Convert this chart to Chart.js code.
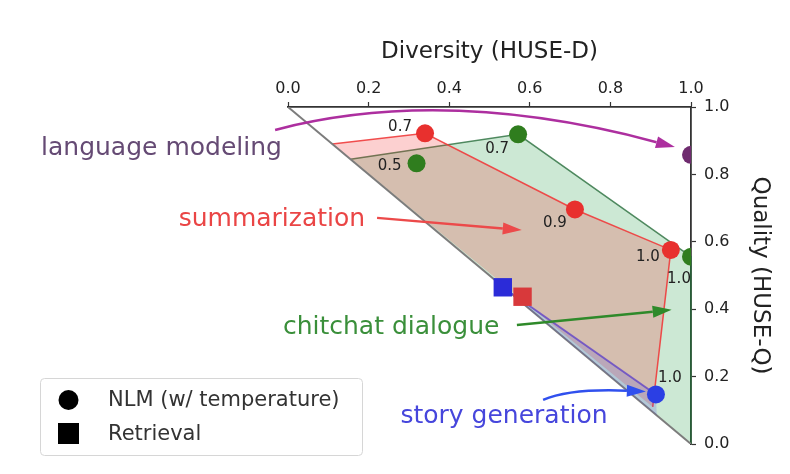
<!DOCTYPE html>
<html>
<head>
<meta charset="utf-8">
<script src="https://cdn.jsdelivr.net/npm/chart.js@4.4.1/dist/chart.umd.min.js"></script>
<style>
  html, body { margin: 0; padding: 0; background: #fff; }
  #wrap { width: 790px; height: 474px; position: relative; }
</style>
</head>
<body>
<div id="wrap"><canvas id="huse"></canvas></div>
<script>
// axis ticks
var xTicks = [0, 0.2, 0.4, 0.6, 0.8, 1.0];
var yTicks = [0, 0.2, 0.4, 0.6, 0.8, 1.0];

// NLM points (with temperature) per task
var lmNLM = [{x: 1.0, y: 0.858}];
var sumNLM = [{x: 0.340, y: 0.922}, {x: 0.712, y: 0.696}, {x: 0.950, y: 0.576}];
var sumTemps = ['0.7', '0.9', '1.0'];
var chatNLM = [{x: 0.319, y: 0.833}, {x: 0.571, y: 0.919}, {x: 1.0, y: 0.556}];
var chatTemps = ['0.5', '0.7', '1.0'];
var storyNLM = [{x: 0.913, y: 0.147}];
var storyTemps = ['1.0'];

// retrieval points
var sumRetrieval = [{x: 0.582, y: 0.437}];
var storyRetrieval = [{x: 0.533, y: 0.465}];

// shaded regions
var sumRegion = [{x: 0.11, y: 0.89}, {x: 0.340, y: 0.922}, {x: 0.712, y: 0.696}, {x: 0.950, y: 0.576}, {x: 0.905, y: 0.11}];
var chatRegion = [{x: 0.155, y: 0.845}, {x: 0.571, y: 0.919}, {x: 1.0, y: 0.556}, {x: 1.0, y: 0.0}];
var storyRegion = [{x: 0.533, y: 0.465}, {x: 0.913, y: 0.147}, {x: 0.915, y: 0.085}];
var diagonal = [{x: 0, y: 1}, {x: 1, y: 0}];

// task labels and arrows (data units)
var notes = [
  {text: 'language modeling', color: '#654a74', arrow: '#ad2f9f', at: [-0.314, 0.878], from: [-0.032, 0.932], via: [0.390, 1.064], to: [0.960, 0.881]},
  {text: 'summarization', color: '#ea4545', arrow: '#ec4a4a', at: [-0.040, 0.665], from: [0.221, 0.671], via: null, to: [0.580, 0.635]},
  {text: 'chitchat dialogue', color: '#3a8f3a', arrow: '#2f8a2a', at: [0.256, 0.347], from: [0.568, 0.353], via: null, to: [0.952, 0.398]},
  {text: 'story generation', color: '#4646dc', arrow: '#3050ee', at: [0.536, 0.083], from: [0.633, 0.131], via: [0.700, 0.165], to: [0.888, 0.156]}
];

var FONT = "'DejaVu Sans', sans-serif";
Chart.defaults.font.family = FONT;

function arrow(ctx, a, c, b, color) {
  var ang = Math.atan2(b[1] - c[1], b[0] - c[0]);
  var L = 19, W = 6;
  var bx = b[0] - L * Math.cos(ang), by = b[1] - L * Math.sin(ang);
  ctx.strokeStyle = color;
  ctx.fillStyle = color;
  ctx.lineWidth = 2.5;
  ctx.beginPath();
  ctx.moveTo(a[0], a[1]);
  ctx.quadraticCurveTo(c[0], c[1], bx, by);
  ctx.stroke();
  ctx.beginPath();
  ctx.moveTo(b[0], b[1]);
  ctx.lineTo(bx - W * Math.sin(ang), by + W * Math.cos(ang));
  ctx.lineTo(bx + W * Math.sin(ang), by - W * Math.cos(ang));
  ctx.closePath();
  ctx.fill();
}

var notesPlugin = {
  id: 'notes',
  afterDatasetsDraw: function(chart) {
    var ctx = chart.ctx, xs = chart.scales.x, ys = chart.scales.y, area = chart.chartArea;
    var px = function(p) { return [xs.getPixelForValue(p[0]), ys.getPixelForValue(p[1])]; };

    // temperature labels next to the NLM points
    ctx.save();
    ctx.beginPath();
    ctx.rect(area.left, area.top, area.right - area.left, area.bottom - area.top);
    ctx.clip();
    ctx.font = '15px ' + FONT;
    ctx.fillStyle = '#222';
    ctx.textAlign = 'center';
    ctx.textBaseline = 'middle';
    chart.data.datasets.forEach(function(ds, i) {
      if (!ds.temps) return;
      var pts = chart.getDatasetMeta(i).data;
      ds.temps.forEach(function(t, j) {
        var o = ds.tempOffsets[j];
        ctx.fillText(t, pts[j].x + o[0], pts[j].y + o[1]);
      });
    });
    ctx.restore();

    // arrows + task names
    ctx.save();
    notes.forEach(function(n) {
      var a = px(n.from), b = px(n.to);
      var c = n.via ? px(n.via) : [(a[0] + b[0]) / 2, (a[1] + b[1]) / 2];
      arrow(ctx, a, c, b, n.arrow);
      var t = px(n.at);
      ctx.font = '25px ' + FONT;
      ctx.fillStyle = n.color;
      ctx.textAlign = 'center';
      ctx.textBaseline = 'middle';
      ctx.fillText(n.text, t[0], t[1]);
    });

    // legend box
    ctx.fillStyle = 'rgba(255,255,255,0.9)';
    ctx.strokeStyle = '#d6d6d6';
    ctx.lineWidth = 1;
    ctx.beginPath();
    ctx.roundRect(40.5, 378.5, 322, 77, 4);
    ctx.fill();
    ctx.stroke();
    ctx.fillStyle = '#000';
    ctx.beginPath();
    ctx.arc(68.5, 400, 10, 0, Math.PI * 2);
    ctx.fill();
    ctx.fillRect(58, 423, 21, 21);
    ctx.font = '21px ' + FONT;
    ctx.fillStyle = '#333';
    ctx.textAlign = 'left';
    ctx.textBaseline = 'middle';
    ctx.fillText('NLM (w/ temperature)', 108, 401);
    ctx.fillText('Retrieval', 108, 435);
    ctx.restore();
  }
};

function marker(data, color, style, r, extra) {
  var d = {
    type: 'scatter',
    data: data,
    pointStyle: style,
    pointRadius: r,
    pointHoverRadius: r,
    pointBackgroundColor: color,
    pointBorderColor: color,
    pointBorderWidth: 0,
    clip: 0
  };
  for (var k in extra) d[k] = extra[k];
  return d;
}

function region(data, fillColor, lineColor, width) {
  return {
    type: 'line',
    data: data,
    fill: 'shape',
    backgroundColor: fillColor,
    borderColor: lineColor,
    borderWidth: width,
    pointRadius: 0,
    tension: 0,
    clip: false
  };
}

var ctx = document.getElementById('huse').getContext('2d');
var huseChart = new Chart(ctx, {
  type: 'scatter',
  data: {
    datasets: [
      marker(lmNLM, '#6f2c6f', 'circle', 9),
      marker(storyNLM, '#2b3fe4', 'circle', 9, {temps: storyTemps, tempOffsets: [[14, -16]]}),
      marker(sumNLM, '#e8302e', 'circle', 9, {temps: sumTemps, tempOffsets: [[-25, -6], [-20, 14], [-23, 7]]}),
      marker(chatNLM, '#2f7d1e', 'circle', 9, {temps: chatTemps, tempOffsets: [[-27, 3], [-21, 15], [-12, 22]]}),
      marker(storyRetrieval, '#2b2bd8', 'rect', 13),
      marker(sumRetrieval, '#d8393b', 'rect', 13),
      {
        type: 'line',
        data: [storyRetrieval[0], storyNLM[0]],
        borderColor: 'rgba(90,60,200,0.75)',
        borderWidth: 2,
        pointRadius: 0,
        fill: false
      },
      region(storyRegion, 'rgba(60,60,230,0.18)', 'rgba(0,0,0,0)', 0),
      {
        type: 'line',
        data: diagonal,
        borderColor: '#7c7c7c',
        borderWidth: 2,
        pointRadius: 0,
        fill: false
      },
      region(sumRegion, 'rgba(240,40,40,0.22)', 'rgba(240,60,60,0.9)', 1.5),
      region(chatRegion, 'rgba(0,140,40,0.2)', 'rgba(40,110,60,0.8)', 1.5)
    ]
  },
  options: {
    responsive: true,
    maintainAspectRatio: false,
    animation: false,
    layout: { padding: { left: 288, right: 0, top: 0, bottom: 30 } },
    plugins: {
      legend: { display: false },
      tooltip: { enabled: false }
    },
    scales: {
      x: {
        type: 'linear',
        position: 'top',
        min: 0,
        max: 1,
        afterBuildTicks: function(s) { s.ticks = xTicks.map(function(v) { return {value: v}; }); },
        afterFit: function(s) { s.height = 107; },
        ticks: {
          callback: function(v) { return v.toFixed(1); },
          font: { size: 16 },
          color: '#222',
          padding: 4,
          maxRotation: 0
        },
        grid: { drawOnChartArea: false, tickLength: 5, color: '#333', tickWidth: 1.2 },
        border: { color: '#333', width: 1.8 },
        title: {
          display: true,
          text: 'Diversity (HUSE-D)',
          font: { size: 23 },
          color: '#222',
          padding: { top: 38, bottom: 0 }
        }
      },
      y: {
        type: 'linear',
        position: 'right',
        min: 0,
        max: 1,
        afterBuildTicks: function(s) { s.ticks = yTicks.map(function(v) { return {value: v}; }); },
        afterFit: function(s) { s.width = 99; },
        ticks: {
          callback: function(v) { return v.toFixed(1); },
          font: { size: 16 },
          color: '#222',
          padding: 8
        },
        grid: { drawOnChartArea: false, tickLength: 5, color: '#333', tickWidth: 1.2 },
        border: { color: '#333', width: 1.8 },
        title: {
          display: true,
          text: 'Quality (HUSE-Q)',
          font: { size: 23 },
          color: '#222',
          padding: { top: 16, bottom: 0 }
        }
      }
    }
  },
  plugins: [notesPlugin]
});
</script>
</body>
</html>
